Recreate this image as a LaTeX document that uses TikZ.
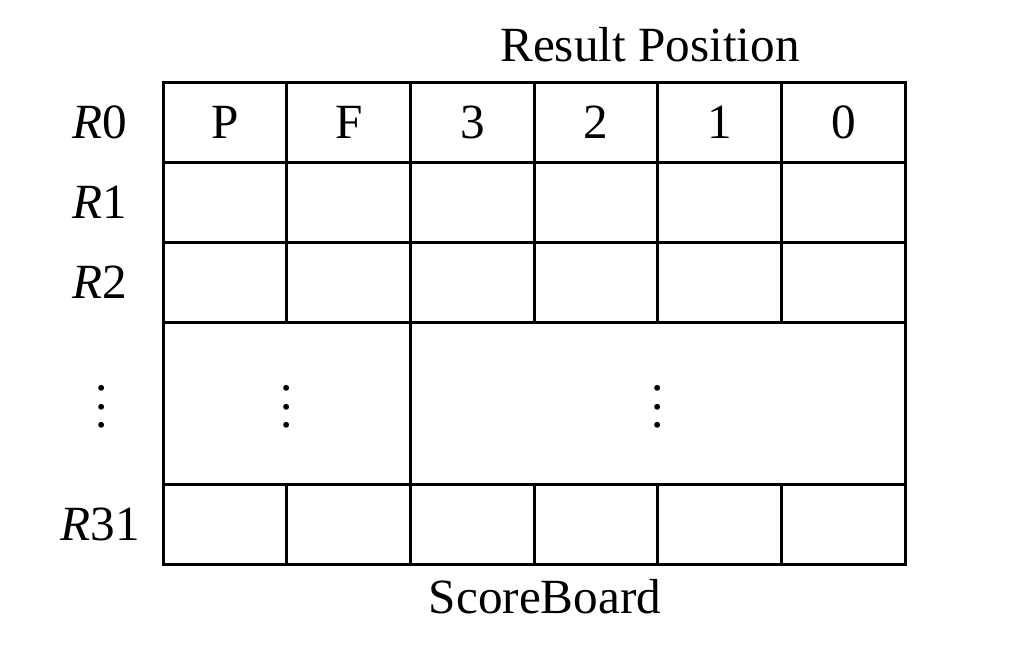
\documentclass[tikz,border=0pt]{standalone}
\usepackage{fontspec}
\setmainfont{Liberation Serif}
\usetikzlibrary{positioning}
\newcommand{\tallvdots}{\vbox{\baselineskip5.2pt\lineskiplimit0pt\hbox{.}\hbox{.}\hbox{.}}}
\begin{document}
\begin{tikzpicture}[x=0.1mm, y=-0.1mm, font=\fontsize{14}{16}\selectfont, line width=0.85pt, cell/.style = {draw, rectangle, outer sep=0pt, inner sep=0pt, minimum width=12.37mm, minimum height=8mm}, tall/.style = {cell, minimum height=16.2mm}, rowlbl/.style = {inner sep=0pt}, dotlbl/.style = {inner sep=0pt, yshift=-0.4mm}]
                \useasboundingbox (0,0) rectangle (1024,654);
                \node (title) at (650,45) {Result Position};
                % row R0
                \node[cell] (r0p) at (225,122) {P};
                \node[cell] (r0f) [right=0pt of r0p] {F};
                \node[cell] (r03) [right=0pt of r0f] {3};
                \node[cell] (r02) [right=0pt of r03] {2};
                \node[cell] (r01) [right=0pt of r02] {1};
                \node[cell] (r00) [right=0pt of r01] {0};
                % row R1
                \node[cell] (r1p) [below=0pt of r0p] {};
                \node[cell] (r1f) [right=0pt of r1p] {};
                \node[cell] (r13) [right=0pt of r1f] {};
                \node[cell] (r12) [right=0pt of r13] {};
                \node[cell] (r11) [right=0pt of r12] {};
                \node[cell] (r10) [right=0pt of r11] {};
                % row R2
                \node[cell] (r2p) [below=0pt of r1p] {};
                \node[cell] (r2f) [right=0pt of r2p] {};
                \node[cell] (r23) [right=0pt of r2f] {};
                \node[cell] (r22) [right=0pt of r23] {};
                \node[cell] (r21) [right=0pt of r22] {};
                \node[cell] (r20) [right=0pt of r21] {};
                % skipped rows
                \node[tall, minimum width=24.74mm, anchor=north west] (mleft) at (r2p.south west) {};
                \node[tall, minimum width=49.48mm, anchor=north west] (mright) at (mleft.north east) {};
                \node[dotlbl] (dleft) at (mleft.center) {\tallvdots};
                \node[dotlbl] (dright) at (mright.center) {\tallvdots};
                % row R31
                \node[cell, anchor=north west] (r31p) at (mleft.south west) {};
                \node[cell] (r31f) [right=0pt of r31p] {};
                \node[cell] (r313) [right=0pt of r31f] {};
                \node[cell] (r312) [right=0pt of r313] {};
                \node[cell] (r311) [right=0pt of r312] {};
                \node[cell] (r310) [right=0pt of r311] {};
                % row names
                \node[rowlbl] (l0) at ([xshift=-12.5mm]r0p.center) {\textit{R}0};
                \node[rowlbl] (l1) at ([xshift=-12.5mm]r1p.center) {\textit{R}1};
                \node[rowlbl] (l2) at ([xshift=-12.5mm]r2p.center) {\textit{R}2};
                \node[dotlbl] (ldots) at ([xshift=-18.5mm]mleft.center) {\tallvdots};
                \node[rowlbl] (l31) at ([xshift=-12.5mm]r31p.center) {\textit{R}31};
                \node (caption) at (545,597) {ScoreBoard};
            \end{tikzpicture}
\end{document}
